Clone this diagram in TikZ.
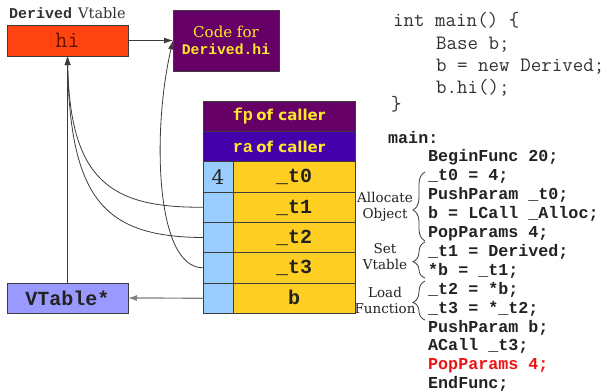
\documentclass[tikz,border=0pt]{standalone}
\usepackage{fontspec}
\setmainfont{DejaVu Serif}
\newfontfamily\monof{Liberation Mono}
\newfontfamily\sansf{DejaVu Sans}
\usetikzlibrary{arrows.meta,decorations.pathreplacing}
\definecolor{hired}{RGB}{255,68,17}
\definecolor{hitext}{RGB}{102,20,0}
\definecolor{plum}{RGB}{102,0,102}
\definecolor{ravio}{RGB}{68,0,170}
\definecolor{ylw}{RGB}{255,206,34}
\definecolor{ltblue}{RGB}{153,204,255}
\definecolor{vtblue}{RGB}{153,153,255}
\definecolor{txtyel}{RGB}{255,232,40}
\definecolor{edge}{RGB}{60,60,60}
\definecolor{codeblk}{RGB}{34,34,34}
\definecolor{srcgray}{RGB}{50,50,50}
\definecolor{codered}{RGB}{235,20,20}
\begin{document}
\begin{tikzpicture}[x=1pt,y=-1pt,
  box/.style={draw=edge, line width=0.8pt, inner sep=0pt, outer sep=0pt},
  wide/.style={box, minimum width=152pt, minimum height=30.33pt, text=txtyel},
  cellL/.style={box, fill=ltblue, minimum width=30pt, minimum height=30.33pt,
     font=\fontsize{20}{20}\selectfont, text=codeblk},
  cellR/.style={box, fill=ylw, minimum width=122pt, minimum height=30.33pt,
     font=\monof\bfseries\fontsize{20}{20}\selectfont, text=codeblk,
     text height=14pt, text depth=2pt},
  link/.style={draw=edge, line width=0.8pt, -{Latex[length=9pt,width=6pt]}},
  codeline/.style={anchor=base west, inner sep=0pt,
     font=\monof\bfseries\fontsize{16.7}{19}\selectfont, text=codeblk},
  srcline/.style={anchor=base west, inner sep=0pt,
     font=\ttfamily\fontsize{20.4}{22}\selectfont, text=srcgray},
  lbl/.style={align=center, inner sep=0pt, text=codeblk,
     font=\fontsize{13.5}{16}\selectfont},
  bracestyle/.style={draw=edge, line width=0.8pt, decorate,
     decoration={brace, amplitude=12pt, aspect=0.45}}
]
\useasboundingbox (0,0) rectangle (610,391);

% vtable label
\node[anchor=base west, inner sep=0pt, text=srcgray] (vtlabel) at (9,18)
  {{\monof\bfseries\fontsize{15}{15}\selectfont Derived}\hspace{6pt}{\fontsize{14.5}{15}\selectfont Vtable}};

% boxes
\node[box, fill=hired, minimum width=121pt, minimum height=31pt,
  font=\ttfamily\fontsize{23.5}{23.5}\selectfont, text=hitext] (hi) at (67.5,40.5) {hi};
\node[box, fill=plum, minimum width=106pt, minimum height=61pt, align=center,
  text=txtyel, font=\fontsize{15}{17}\selectfont] (code) at (226,40.5)
  {Code for\\{\monof\bfseries\fontsize{14.7}{17}\selectfont Derived.hi}};
\node[box, fill=vtblue, minimum width=121pt, minimum height=30pt,
  font=\monof\bfseries\fontsize{20}{20}\selectfont, text=codeblk] (vt) at (67.5,298) {VTable*};

% stack
\node[wide, fill=plum] (fp) at (279,116.2)
  {{\monof\bfseries\fontsize{17}{17}\selectfont fp} {\sansf\bfseries\fontsize{15}{15}\selectfont of caller}};
\node[wide, fill=ravio] (ra) at (279,146.5)
  {{\monof\bfseries\fontsize{17}{17}\selectfont ra} {\sansf\bfseries\fontsize{15}{15}\selectfont of caller}};
\node[cellL] (l0) at (218,176.8) {4};
\node[cellR] (r0) at (294,176.8) {\_t0};
\node[cellL] (l1) at (218,207.2) {};
\node[cellR] (r1) at (294,207.2) {\_t1};
\node[cellL] (l2) at (218,237.5) {};
\node[cellR] (r2) at (294,237.5) {\_t2};
\node[cellL] (l3) at (218,267.8) {};
\node[cellR] (r3) at (294,267.8) {\_t3};
\node[cellL] (lb) at (218,298.2) {};
\node[cellR] (rb) at (294,298.2) {b};

% connectors
\draw[link] (hi.east) -- (code.west);
\draw[link] (vt.north) -- (hi.south);
\draw[link] (l1.west) .. controls (110,208) and (70,180) .. (hi.south);
\draw[link] (l2.west) .. controls (105,237) and (70,200) .. (hi.south);
\draw[link] (l3.west) .. controls (155,268) and (152,130) .. (code.west);
\draw[draw=gray, line width=1.2pt, -{Latex[length=9pt,width=6pt]}] (lb.west) -- (vt.east);

% source code
\node[srcline] (s1) at (393,26.5) {int main() \{};
\node[srcline] (s2) at (436,49) {Base b;};
\node[srcline] (s3) at (436,71.5) {b = new Derived;};
\node[srcline] (s4) at (436,93.5) {b.hi();};
\node[srcline] (s5) at (391,110) {\}};

% TAC code
\node[codeline] (c1) at (388,143) {main:};
\node[codeline] (c2) at (428,161.9) {BeginFunc 20;};
\node[codeline] (c3) at (428,180.8) {\_t0 = 4;};
\node[codeline] (c4) at (428,199.7) {PushParam \_t0;};
\node[codeline] (c5) at (428,218.6) {b = LCall \_Alloc;};
\node[codeline] (c6) at (428,237.5) {PopParams 4;};
\node[codeline] (c7) at (428,256.4) {\_t1 = Derived;};
\node[codeline] (c8) at (428,275.3) {*b = \_t1;};
\node[codeline] (c9) at (428,294.2) {\_t2 = *b;};
\node[codeline] (c10) at (428,313.1) {\_t3 = *\_t2;};
\node[codeline] (c11) at (428,332) {PushParam b;};
\node[codeline] (c12) at (428,350.9) {ACall \_t3;};
\node[codeline, text=codered] (c13) at (428,369.8) {PopParams 4;};
\node[codeline] (c14) at (428,388.7) {EndFunc;};

% braces
\coordinate (b1a) at (425,241);
\coordinate (b1b) at (425,172);
\coordinate (b2a) at (425,278);
\coordinate (b2b) at (425,242);
\coordinate (b3a) at (425,320);
\coordinate (b3b) at (425,281);
\draw[bracestyle] (b1a) -- (b1b);
\draw[bracestyle] (b2a) -- (b2b);
\draw[bracestyle] (b3a) -- (b3b);
\node[lbl] (alloc) at (385,207) {Allocate\\Object};
\node[lbl] (setvt) at (385,257) {Set\\Vtable};
\node[lbl] (loadf) at (385,300) {Load\\Function};
\end{tikzpicture}
\end{document}
